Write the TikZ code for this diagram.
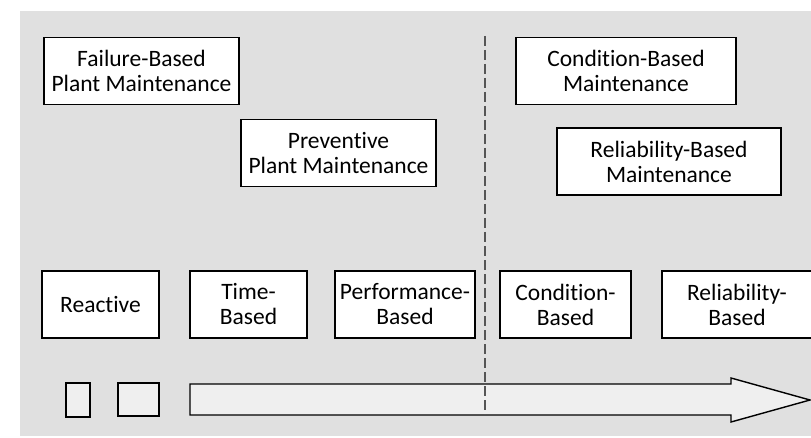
\documentclass[tikz,border=0pt]{standalone}
\usepackage{fontspec}
\setmainfont{Carlito}[Ligatures=NoCommon]
\usetikzlibrary{positioning}

\definecolor{bggray}{HTML}{E0E0E0}
\definecolor{lightfill}{HTML}{EFEFEF}
\definecolor{divgray}{HTML}{555555}

\begin{document}
\begin{tikzpicture}[x=1pt, y=1pt,
    box/.style={draw=black, fill=white, line width=1.1pt, align=center,
        inner sep=0pt, minimum height=67pt, font=\fontsize{23.5}{25}\selectfont},
    smallbox/.style={draw=black, fill=lightfill, line width=1.4pt, inner sep=0pt}
]
\useasboundingbox (0,0) rectangle (811,437);
% Background panel
\fill[bggray] (20,1) rectangle (811,426);
% Maintenance strategies (upper part)
\node[box, minimum width=195pt] (fbpm) at (141.5,366) {Failure-Based\\Plant Maintenance};
\node[box, minimum width=195pt] (ppm) at (338.5,284) {Preventive\\Plant Maintenance};
\node[box, minimum width=220pt] (cbm) at (626,366) {Condition-Based\\Maintenance};
\node[box, minimum width=224pt] (rbm) at (669,275.5) {Reliability-Based\\Maintenance};
% Maintenance types (row)
\node[box, minimum width=117pt] (reactive) at (100.5,132.5) {Reactive};
\foreach \id/\x/\w/\first in {
    timebased/248.5/117/Time,
    perfbased/405/140/Performance,
    condbased/565.5/131/Condition,
    relbased/737/150/Reliability%
} {
    \node[box, minimum width=\w pt] (\id) at (\x,132.5) {\first-\\Based};
}
% Progress arrow
\node[smallbox, minimum width=24pt, minimum height=34pt] (step1) at (78,37) {};
\node[smallbox, minimum width=41pt, minimum height=33pt] (step2) at (138.5,37.5) {};
\draw[fill=lightfill, line width=1.4pt, line join=miter]
    (190,53) -- (731,53) -- (731,59) -- (810,37) -- (731,15) -- (731,22)
    -- (190,22) -- cycle;
% Divider
\coordinate (divtop) at (485,401);
\coordinate (divbot) at (485,22);
\draw[divgray, line width=2pt, dash pattern=on 10pt off 4pt] (divtop) -- (divbot);
\end{tikzpicture}
\end{document}
